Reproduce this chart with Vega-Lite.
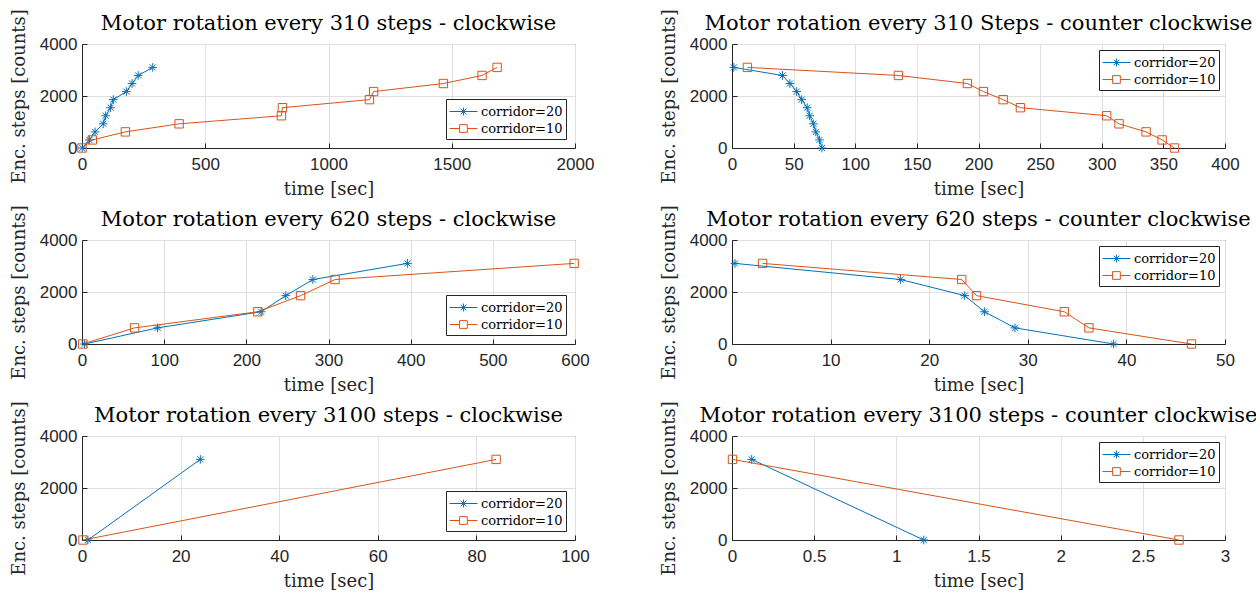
{
  "$schema": "https://vega.github.io/schema/vega-lite/v6.json",
  "background": "white",
  "padding": {"left": 9, "top": 8, "right": 0, "bottom": 0},
  "bounds": "flush",
  "columns": 2,
  "spacing": {"row": 92, "column": 157},
  "datasets": {
    "d": [
      {"panel": 1, "series": "corridor=20", "t": 1, "steps": 0},
      {"panel": 1, "series": "corridor=20", "t": 30, "steps": 310},
      {"panel": 1, "series": "corridor=20", "t": 53, "steps": 620},
      {"panel": 1, "series": "corridor=20", "t": 86, "steps": 930},
      {"panel": 1, "series": "corridor=20", "t": 96, "steps": 1240},
      {"panel": 1, "series": "corridor=20", "t": 116, "steps": 1550},
      {"panel": 1, "series": "corridor=20", "t": 127, "steps": 1860},
      {"panel": 1, "series": "corridor=20", "t": 180, "steps": 2170},
      {"panel": 1, "series": "corridor=20", "t": 203, "steps": 2480},
      {"panel": 1, "series": "corridor=20", "t": 228, "steps": 2790},
      {"panel": 1, "series": "corridor=20", "t": 287, "steps": 3100},
      {"panel": 1, "series": "corridor=10", "t": 0, "steps": 0},
      {"panel": 1, "series": "corridor=10", "t": 42, "steps": 310},
      {"panel": 1, "series": "corridor=10", "t": 176, "steps": 620},
      {"panel": 1, "series": "corridor=10", "t": 394, "steps": 930},
      {"panel": 1, "series": "corridor=10", "t": 809, "steps": 1240},
      {"panel": 1, "series": "corridor=10", "t": 813, "steps": 1550},
      {"panel": 1, "series": "corridor=10", "t": 1166, "steps": 1860},
      {"panel": 1, "series": "corridor=10", "t": 1183, "steps": 2170},
      {"panel": 1, "series": "corridor=10", "t": 1466, "steps": 2480},
      {"panel": 1, "series": "corridor=10", "t": 1623, "steps": 2790},
      {"panel": 1, "series": "corridor=10", "t": 1684, "steps": 3100},
      {"panel": 2, "series": "corridor=20", "t": 1.5, "steps": 3100},
      {"panel": 2, "series": "corridor=20", "t": 41, "steps": 2790},
      {"panel": 2, "series": "corridor=20", "t": 47, "steps": 2480},
      {"panel": 2, "series": "corridor=20", "t": 52.5, "steps": 2170},
      {"panel": 2, "series": "corridor=20", "t": 56.5, "steps": 1860},
      {"panel": 2, "series": "corridor=20", "t": 61, "steps": 1550},
      {"panel": 2, "series": "corridor=20", "t": 63, "steps": 1240},
      {"panel": 2, "series": "corridor=20", "t": 66, "steps": 930},
      {"panel": 2, "series": "corridor=20", "t": 68, "steps": 620},
      {"panel": 2, "series": "corridor=20", "t": 71, "steps": 310},
      {"panel": 2, "series": "corridor=20", "t": 73, "steps": 0},
      {"panel": 2, "series": "corridor=10", "t": 12.5, "steps": 3100},
      {"panel": 2, "series": "corridor=10", "t": 135, "steps": 2790},
      {"panel": 2, "series": "corridor=10", "t": 191, "steps": 2480},
      {"panel": 2, "series": "corridor=10", "t": 204, "steps": 2170},
      {"panel": 2, "series": "corridor=10", "t": 220, "steps": 1860},
      {"panel": 2, "series": "corridor=10", "t": 234, "steps": 1550},
      {"panel": 2, "series": "corridor=10", "t": 304, "steps": 1240},
      {"panel": 2, "series": "corridor=10", "t": 314, "steps": 930},
      {"panel": 2, "series": "corridor=10", "t": 336, "steps": 620},
      {"panel": 2, "series": "corridor=10", "t": 349, "steps": 310},
      {"panel": 2, "series": "corridor=10", "t": 359, "steps": 0},
      {"panel": 3, "series": "corridor=20", "t": 3, "steps": 0},
      {"panel": 3, "series": "corridor=20", "t": 92, "steps": 620},
      {"panel": 3, "series": "corridor=20", "t": 218, "steps": 1240},
      {"panel": 3, "series": "corridor=20", "t": 248, "steps": 1860},
      {"panel": 3, "series": "corridor=20", "t": 281, "steps": 2480},
      {"panel": 3, "series": "corridor=20", "t": 396, "steps": 3100},
      {"panel": 3, "series": "corridor=10", "t": 1, "steps": 0},
      {"panel": 3, "series": "corridor=10", "t": 64, "steps": 620},
      {"panel": 3, "series": "corridor=10", "t": 214, "steps": 1240},
      {"panel": 3, "series": "corridor=10", "t": 266, "steps": 1860},
      {"panel": 3, "series": "corridor=10", "t": 308, "steps": 2480},
      {"panel": 3, "series": "corridor=10", "t": 599, "steps": 3100},
      {"panel": 4, "series": "corridor=20", "t": 0.3, "steps": 3100},
      {"panel": 4, "series": "corridor=20", "t": 17.1, "steps": 2480},
      {"panel": 4, "series": "corridor=20", "t": 23.6, "steps": 1860},
      {"panel": 4, "series": "corridor=20", "t": 25.6, "steps": 1240},
      {"panel": 4, "series": "corridor=20", "t": 28.7, "steps": 620},
      {"panel": 4, "series": "corridor=20", "t": 38.7, "steps": 0},
      {"panel": 4, "series": "corridor=10", "t": 3.1, "steps": 3100},
      {"panel": 4, "series": "corridor=10", "t": 23.3, "steps": 2480},
      {"panel": 4, "series": "corridor=10", "t": 24.8, "steps": 1860},
      {"panel": 4, "series": "corridor=10", "t": 33.7, "steps": 1240},
      {"panel": 4, "series": "corridor=10", "t": 36.2, "steps": 620},
      {"panel": 4, "series": "corridor=10", "t": 46.6, "steps": 0},
      {"panel": 5, "series": "corridor=20", "t": 1.2, "steps": 0},
      {"panel": 5, "series": "corridor=20", "t": 24, "steps": 3100},
      {"panel": 5, "series": "corridor=10", "t": 0.2, "steps": 0},
      {"panel": 5, "series": "corridor=10", "t": 84, "steps": 3100},
      {"panel": 6, "series": "corridor=20", "t": 0.12, "steps": 3100},
      {"panel": 6, "series": "corridor=20", "t": 1.167, "steps": 0},
      {"panel": 6, "series": "corridor=10", "t": 0.003, "steps": 3100},
      {"panel": 6, "series": "corridor=10", "t": 2.72, "steps": 0}
    ]
  },
  "resolve": {
    "scale": {"x": "independent", "y": "independent", "color": "independent"},
    "axis": {"x": "independent", "y": "independent"},
    "legend": {"color": "independent"}
  },
  "concat": [
    {
      "width": 493, "height": 104,
      "title": "Motor rotation every 310 steps - clockwise",
      "data": {"name": "d"},
      "transform": [{"filter": "datum.panel == 1"}],
      "encoding": {
        "x": {"field": "t", "type": "quantitative", "scale": {"domain": [0, 2000], "nice": false, "zero": false}, "axis": {"values": [0, 500, 1000, 1500, 2000], "title": "time [sec]"}},
        "y": {"field": "steps", "type": "quantitative", "scale": {"domain": [0, 4000], "nice": false}, "axis": {"values": [0, 2000, 4000], "title": "Enc. steps [counts]"}}
      },
      "layer": [
        {"mark": {"type": "line", "strokeWidth": 1, "clip": false},
         "encoding": {"color": {"field": "series", "type": "nominal", "scale": {"domain": ["corridor=20", "corridor=10"], "range": ["#0072BD", "#D95319"]},
           "legend": {"title": null, "orient": "bottom-right", "offset": 9, "strokeColor": "#262626", "fillColor": "white", "padding": 3, "rowPadding": -4, "labelFont": "DejaVu Serif", "labelFontSize": 13, "labelColor": "black", "symbolSize": 324, "symbolStrokeWidth": 1, "labelOffset": 13, "symbolType": "stroke",
             "encode": {"symbols": {"update": {"fill": {"value": "transparent"}, "shape": {"signal": "datum.value === 'corridor=20' ? 'M-1,0L2.1,0M0.55,-0.44L0.55,0.44M0.24,-0.31L0.86,0.31M0.24,0.31L0.86,-0.31' : 'M-1,0L0.12,0M0.98,0L2.1,0M0.12,-0.43L0.98,-0.43L0.98,0.43L0.12,0.43Z'"}}}}}}}},
        {"transform": [{"filter": "datum.series == 'corridor=20'"}],
         "mark": {"type": "point", "filled": false, "strokeWidth": 1, "size": 75, "opacity": 1, "color": "#0072BD", "shape": "M-1,0L1,0M0,-1L0,1M-0.7,-0.7L0.7,0.7M-0.7,0.7L0.7,-0.7"}, "encoding": {}},
        {"transform": [{"filter": "datum.series == 'corridor=10'"}],
         "mark": {"type": "point", "filled": false, "strokeWidth": 1, "size": 70, "opacity": 1, "color": "#D95319", "shape": "M-1,-1L1,-1L1,1L-1,1Z"}, "encoding": {}}
      ]
    },
    {
      "width": 493, "height": 104,
      "title": "Motor rotation every 310 Steps - counter clockwise",
      "data": {"name": "d"},
      "transform": [{"filter": "datum.panel == 2"}],
      "encoding": {
        "x": {"field": "t", "type": "quantitative", "scale": {"domain": [0, 400], "nice": false, "zero": false}, "axis": {"values": [0, 50, 100, 150, 200, 250, 300, 350, 400], "title": "time [sec]"}},
        "y": {"field": "steps", "type": "quantitative", "scale": {"domain": [0, 4000], "nice": false}, "axis": {"values": [0, 2000, 4000], "title": "Enc. steps [counts]"}}
      },
      "layer": [
        {"mark": {"type": "line", "strokeWidth": 1, "clip": false},
         "encoding": {"color": {"field": "series", "type": "nominal", "scale": {"domain": ["corridor=20", "corridor=10"], "range": ["#0072BD", "#D95319"]},
           "legend": {"title": null, "orient": "top-right", "offset": 6, "strokeColor": "#262626", "fillColor": "white", "padding": 3, "rowPadding": -4, "labelFont": "DejaVu Serif", "labelFontSize": 13, "labelColor": "black", "symbolSize": 324, "symbolStrokeWidth": 1, "labelOffset": 13, "symbolType": "stroke",
             "encode": {"symbols": {"update": {"fill": {"value": "transparent"}, "shape": {"signal": "datum.value === 'corridor=20' ? 'M-1,0L2.1,0M0.55,-0.44L0.55,0.44M0.24,-0.31L0.86,0.31M0.24,0.31L0.86,-0.31' : 'M-1,0L0.12,0M0.98,0L2.1,0M0.12,-0.43L0.98,-0.43L0.98,0.43L0.12,0.43Z'"}}}}}}}},
        {"transform": [{"filter": "datum.series == 'corridor=20'"}],
         "mark": {"type": "point", "filled": false, "strokeWidth": 1, "size": 75, "opacity": 1, "color": "#0072BD", "shape": "M-1,0L1,0M0,-1L0,1M-0.7,-0.7L0.7,0.7M-0.7,0.7L0.7,-0.7"}, "encoding": {}},
        {"transform": [{"filter": "datum.series == 'corridor=10'"}],
         "mark": {"type": "point", "filled": false, "strokeWidth": 1, "size": 70, "opacity": 1, "color": "#D95319", "shape": "M-1,-1L1,-1L1,1L-1,1Z"}, "encoding": {}}
      ]
    },
    {
      "width": 493, "height": 104,
      "title": "Motor rotation every 620 steps - clockwise",
      "data": {"name": "d"},
      "transform": [{"filter": "datum.panel == 3"}],
      "encoding": {
        "x": {"field": "t", "type": "quantitative", "scale": {"domain": [0, 600], "nice": false, "zero": false}, "axis": {"values": [0, 100, 200, 300, 400, 500, 600], "title": "time [sec]"}},
        "y": {"field": "steps", "type": "quantitative", "scale": {"domain": [0, 4000], "nice": false}, "axis": {"values": [0, 2000, 4000], "title": "Enc. steps [counts]"}}
      },
      "layer": [
        {"mark": {"type": "line", "strokeWidth": 1, "clip": false},
         "encoding": {"color": {"field": "series", "type": "nominal", "scale": {"domain": ["corridor=20", "corridor=10"], "range": ["#0072BD", "#D95319"]},
           "legend": {"title": null, "orient": "bottom-right", "offset": 9, "strokeColor": "#262626", "fillColor": "white", "padding": 3, "rowPadding": -4, "labelFont": "DejaVu Serif", "labelFontSize": 13, "labelColor": "black", "symbolSize": 324, "symbolStrokeWidth": 1, "labelOffset": 13, "symbolType": "stroke",
             "encode": {"symbols": {"update": {"fill": {"value": "transparent"}, "shape": {"signal": "datum.value === 'corridor=20' ? 'M-1,0L2.1,0M0.55,-0.44L0.55,0.44M0.24,-0.31L0.86,0.31M0.24,0.31L0.86,-0.31' : 'M-1,0L0.12,0M0.98,0L2.1,0M0.12,-0.43L0.98,-0.43L0.98,0.43L0.12,0.43Z'"}}}}}}}},
        {"transform": [{"filter": "datum.series == 'corridor=20'"}],
         "mark": {"type": "point", "filled": false, "strokeWidth": 1, "size": 75, "opacity": 1, "color": "#0072BD", "shape": "M-1,0L1,0M0,-1L0,1M-0.7,-0.7L0.7,0.7M-0.7,0.7L0.7,-0.7"}, "encoding": {}},
        {"transform": [{"filter": "datum.series == 'corridor=10'"}],
         "mark": {"type": "point", "filled": false, "strokeWidth": 1, "size": 70, "opacity": 1, "color": "#D95319", "shape": "M-1,-1L1,-1L1,1L-1,1Z"}, "encoding": {}}
      ]
    },
    {
      "width": 493, "height": 104,
      "title": "Motor rotation every 620 steps - counter clockwise",
      "data": {"name": "d"},
      "transform": [{"filter": "datum.panel == 4"}],
      "encoding": {
        "x": {"field": "t", "type": "quantitative", "scale": {"domain": [0, 50], "nice": false, "zero": false}, "axis": {"values": [0, 10, 20, 30, 40, 50], "title": "time [sec]"}},
        "y": {"field": "steps", "type": "quantitative", "scale": {"domain": [0, 4000], "nice": false}, "axis": {"values": [0, 2000, 4000], "title": "Enc. steps [counts]"}}
      },
      "layer": [
        {"mark": {"type": "line", "strokeWidth": 1, "clip": false},
         "encoding": {"color": {"field": "series", "type": "nominal", "scale": {"domain": ["corridor=20", "corridor=10"], "range": ["#0072BD", "#D95319"]},
           "legend": {"title": null, "orient": "top-right", "offset": 6, "strokeColor": "#262626", "fillColor": "white", "padding": 3, "rowPadding": -4, "labelFont": "DejaVu Serif", "labelFontSize": 13, "labelColor": "black", "symbolSize": 324, "symbolStrokeWidth": 1, "labelOffset": 13, "symbolType": "stroke",
             "encode": {"symbols": {"update": {"fill": {"value": "transparent"}, "shape": {"signal": "datum.value === 'corridor=20' ? 'M-1,0L2.1,0M0.55,-0.44L0.55,0.44M0.24,-0.31L0.86,0.31M0.24,0.31L0.86,-0.31' : 'M-1,0L0.12,0M0.98,0L2.1,0M0.12,-0.43L0.98,-0.43L0.98,0.43L0.12,0.43Z'"}}}}}}}},
        {"transform": [{"filter": "datum.series == 'corridor=20'"}],
         "mark": {"type": "point", "filled": false, "strokeWidth": 1, "size": 75, "opacity": 1, "color": "#0072BD", "shape": "M-1,0L1,0M0,-1L0,1M-0.7,-0.7L0.7,0.7M-0.7,0.7L0.7,-0.7"}, "encoding": {}},
        {"transform": [{"filter": "datum.series == 'corridor=10'"}],
         "mark": {"type": "point", "filled": false, "strokeWidth": 1, "size": 70, "opacity": 1, "color": "#D95319", "shape": "M-1,-1L1,-1L1,1L-1,1Z"}, "encoding": {}}
      ]
    },
    {
      "width": 493, "height": 104,
      "title": "Motor rotation every 3100 steps - clockwise",
      "data": {"name": "d"},
      "transform": [{"filter": "datum.panel == 5"}],
      "encoding": {
        "x": {"field": "t", "type": "quantitative", "scale": {"domain": [0, 100], "nice": false, "zero": false}, "axis": {"values": [0, 20, 40, 60, 80, 100], "title": "time [sec]"}},
        "y": {"field": "steps", "type": "quantitative", "scale": {"domain": [0, 4000], "nice": false}, "axis": {"values": [0, 2000, 4000], "title": "Enc. steps [counts]"}}
      },
      "layer": [
        {"mark": {"type": "line", "strokeWidth": 1, "clip": false},
         "encoding": {"color": {"field": "series", "type": "nominal", "scale": {"domain": ["corridor=20", "corridor=10"], "range": ["#0072BD", "#D95319"]},
           "legend": {"title": null, "orient": "bottom-right", "offset": 9, "strokeColor": "#262626", "fillColor": "white", "padding": 3, "rowPadding": -4, "labelFont": "DejaVu Serif", "labelFontSize": 13, "labelColor": "black", "symbolSize": 324, "symbolStrokeWidth": 1, "labelOffset": 13, "symbolType": "stroke",
             "encode": {"symbols": {"update": {"fill": {"value": "transparent"}, "shape": {"signal": "datum.value === 'corridor=20' ? 'M-1,0L2.1,0M0.55,-0.44L0.55,0.44M0.24,-0.31L0.86,0.31M0.24,0.31L0.86,-0.31' : 'M-1,0L0.12,0M0.98,0L2.1,0M0.12,-0.43L0.98,-0.43L0.98,0.43L0.12,0.43Z'"}}}}}}}},
        {"transform": [{"filter": "datum.series == 'corridor=20'"}],
         "mark": {"type": "point", "filled": false, "strokeWidth": 1, "size": 75, "opacity": 1, "color": "#0072BD", "shape": "M-1,0L1,0M0,-1L0,1M-0.7,-0.7L0.7,0.7M-0.7,0.7L0.7,-0.7"}, "encoding": {}},
        {"transform": [{"filter": "datum.series == 'corridor=10'"}],
         "mark": {"type": "point", "filled": false, "strokeWidth": 1, "size": 70, "opacity": 1, "color": "#D95319", "shape": "M-1,-1L1,-1L1,1L-1,1Z"}, "encoding": {}}
      ]
    },
    {
      "width": 493, "height": 104,
      "title": "Motor rotation every 3100 steps - counter clockwise",
      "data": {"name": "d"},
      "transform": [{"filter": "datum.panel == 6"}],
      "encoding": {
        "x": {"field": "t", "type": "quantitative", "scale": {"domain": [0, 3], "nice": false, "zero": false}, "axis": {"values": [0, 0.5, 1, 1.5, 2, 2.5, 3], "title": "time [sec]"}},
        "y": {"field": "steps", "type": "quantitative", "scale": {"domain": [0, 4000], "nice": false}, "axis": {"values": [0, 2000, 4000], "title": "Enc. steps [counts]"}}
      },
      "layer": [
        {"mark": {"type": "line", "strokeWidth": 1, "clip": false},
         "encoding": {"color": {"field": "series", "type": "nominal", "scale": {"domain": ["corridor=20", "corridor=10"], "range": ["#0072BD", "#D95319"]},
           "legend": {"title": null, "orient": "top-right", "offset": 6, "strokeColor": "#262626", "fillColor": "white", "padding": 3, "rowPadding": -4, "labelFont": "DejaVu Serif", "labelFontSize": 13, "labelColor": "black", "symbolSize": 324, "symbolStrokeWidth": 1, "labelOffset": 13, "symbolType": "stroke",
             "encode": {"symbols": {"update": {"fill": {"value": "transparent"}, "shape": {"signal": "datum.value === 'corridor=20' ? 'M-1,0L2.1,0M0.55,-0.44L0.55,0.44M0.24,-0.31L0.86,0.31M0.24,0.31L0.86,-0.31' : 'M-1,0L0.12,0M0.98,0L2.1,0M0.12,-0.43L0.98,-0.43L0.98,0.43L0.12,0.43Z'"}}}}}}}},
        {"transform": [{"filter": "datum.series == 'corridor=20'"}],
         "mark": {"type": "point", "filled": false, "strokeWidth": 1, "size": 75, "opacity": 1, "color": "#0072BD", "shape": "M-1,0L1,0M0,-1L0,1M-0.7,-0.7L0.7,0.7M-0.7,0.7L0.7,-0.7"}, "encoding": {}},
        {"transform": [{"filter": "datum.series == 'corridor=10'"}],
         "mark": {"type": "point", "filled": false, "strokeWidth": 1, "size": 70, "opacity": 1, "color": "#D95319", "shape": "M-1,-1L1,-1L1,1L-1,1Z"}, "encoding": {}}
      ]
    }
  ],
  "config": {
    "view": {"stroke": "#262626", "strokeWidth": 1},
    "axis": {
      "labelFont": "Liberation Sans", "labelFontSize": 17, "labelColor": "#262626",
      "titleFont": "DejaVu Serif", "titleFontSize": 18, "titleFontWeight": "normal", "titleColor": "#262626",
      "gridColor": "#dfdfdf", "gridWidth": 1, "gridOpacity": 1,
      "tickColor": "#262626", "tickSize": -5,
      "domainColor": "#262626", "labelFlush": false, "labelOverlap": false, "format": "~r"
    },
    "axisX": {"titlePadding": 8, "labelPadding": 13},
    "axisY": {"titlePadding": 11, "labelPadding": 10},
    "title": {"font": "DejaVu Serif", "fontSize": 21, "fontWeight": "normal", "color": "black", "offset": -25}
  }
}
